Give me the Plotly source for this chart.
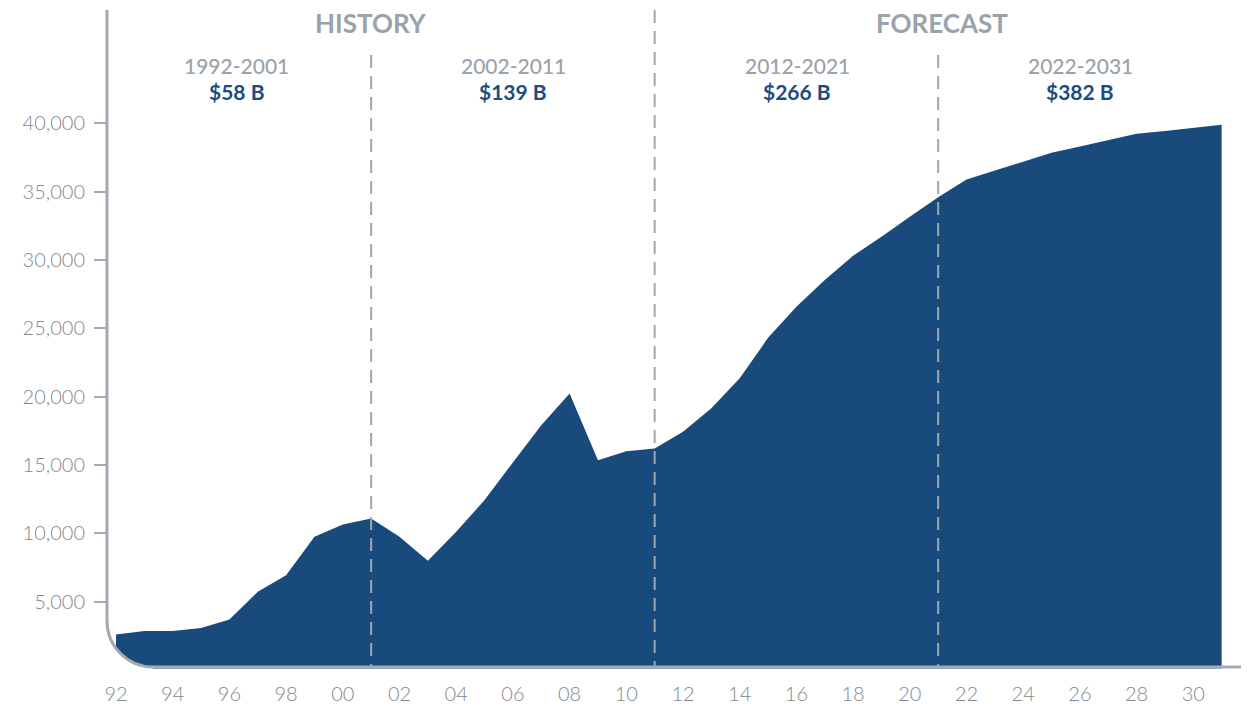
import plotly.graph_objects as go

# ---------------- data ----------------
years = list(range(1992, 2032))
values = [2600, 2850, 2850, 3070, 3700, 5720, 6940, 9750, 10650, 11090,
          9750, 7990, 10110, 12430, 15180, 17910, 20230, 15350, 16010, 16210,
          17430, 19150, 21340, 24300, 26580, 28530, 30310, 31700, 33160, 34580,
          35890, 36550, 37200, 37840, 38300, 38740, 39230, 39440, 39660, 39890]
x_tick_vals = list(range(1992, 2031, 2))
x_tick_text = [str(y)[2:] for y in x_tick_vals]
y_tick_vals = [5000, 10000, 15000, 20000, 25000, 30000, 35000, 40000]
dividers = [2001, 2011, 2021]
sections = ["HISTORY", "FORECAST"]
periods = ["1992-2001", "2002-2011", "2012-2021", "2022-2031"]
totals = ["$58 B", "$139 B", "$266 B", "$382 B"]

# ---------------- geometry (page pixels, page has an 8px body margin) ----------------
OFF = 8
PAGE_W, PAGE_H = 1249, 707
W, H = PAGE_W - OFF, PAGE_H - OFF
AX_X, AX_Y = 107, 667          # page position of axis lines
ZERO_Y = 670                   # page y of value 0
L = AX_X - OFF
B = H - (ZERO_Y - OFF)
T, R = 0, 0
PW, PH = W - L - R, H - T - B
px_per_year = 28.35
x0 = 1992 - (116 - AX_X) / px_per_year
x1 = x0 + PW / px_per_year
ymax = PH * 5000 / 68.34

def px(xp):  # page x -> paper
    return (xp - OFF - L) / PW

def py(yp):  # page y -> paper
    return (ZERO_Y - yp) / PH

FILL = "#184A7C"
AXIS = "#A3AAB2"
GRAY_TXT = "#9AA2AA"
BLUE_TXT = "#1D4C80"
TICK_TXT = "#85888B"

fig = go.Figure()
fig.add_trace(go.Scatter(
    x=years, y=values, mode="lines", fill="tozeroy",
    fillcolor=FILL, line=dict(width=0, color=FILL), hoverinfo="x+y",
    showlegend=False,
))

shapes = []
# white mask under bottom axis line
shapes.append(dict(type="rect", xref="paper", yref="paper",
                   x0=px(95), x1=px(PAGE_W + 5), y0=py(668.5), y1=py(ZERO_Y + 3),
                   fillcolor="white", line=dict(width=0), layer="above"))
# rounded corner mask
r = 46
cx_ax, cy_ax = AX_X, AX_Y
k = 0.5523 * r
corner = (f"M {px(cx_ax - 10)},{py(cy_ax - r)} L {px(cx_ax)},{py(cy_ax - r)} "
          f"C {px(cx_ax)},{py(cy_ax - r + k)} {px(cx_ax + r - k)},{py(cy_ax)} {px(cx_ax + r)},{py(cy_ax)} "
          f"L {px(cx_ax + r)},{py(cy_ax + 4)} L {px(cx_ax - 10)},{py(cy_ax + 4)} Z")
shapes.append(dict(type="path", xref="paper", yref="paper", path=corner,
                   fillcolor="white", line=dict(width=0), layer="above"))
# dashed dividers
for d in dividers:
    top = 10 if d == 2011 else 55
    shapes.append(dict(type="line", xref="x", yref="paper", x0=d, x1=d,
                       y0=py(top), y1=py(666),
                       line=dict(color="#9EA7B0", width=2, dash="13px,8px"),
                       layer="above"))
# axis path with rounded corner
axis_path = (f"M {px(cx_ax)},{py(10)} L {px(cx_ax)},{py(cy_ax - r)} "
             f"C {px(cx_ax)},{py(cy_ax - r + k)} {px(cx_ax + r - k)},{py(cy_ax)} {px(cx_ax + r)},{py(cy_ax)} "
             f"L {px(PAGE_W + 5)},{py(cy_ax)}")
shapes.append(dict(type="path", xref="paper", yref="paper", path=axis_path,
                   line=dict(color=AXIS, width=3), layer="above"))

annotations = []
for txt, cxp in zip(sections, [371, 942]):
    annotations.append(dict(text=f"<b>{txt}</b>", x=px(cxp), y=py(23), xref="paper", yref="paper",
                            showarrow=False, xanchor="center", yanchor="middle",
                            font=dict(family="Lato", size=26, color=GRAY_TXT, weight=900)))
for per, tot, cxp in zip(periods, totals, [236, 513, 797, 1080]):
    annotations.append(dict(text=per, x=px(cxp), y=py(65.5), xref="paper", yref="paper",
                            showarrow=False, xanchor="center", yanchor="middle",
                            font=dict(family="Lato", size=21, color=GRAY_TXT, weight=500)))
    annotations.append(dict(text=tot, x=px(cxp), y=py(91), xref="paper", yref="paper",
                            showarrow=False, xanchor="center", yanchor="middle",
                            font=dict(family="Lato", size=21, color=BLUE_TXT, weight=700)))

fig.update_layout(
    width=W, height=H,
    margin=dict(l=L, r=R, t=T, b=B, pad=0),
    paper_bgcolor="white", plot_bgcolor="white",
    shapes=shapes, annotations=annotations,
    xaxis=dict(range=[x0, x1], tickvals=x_tick_vals, ticktext=x_tick_text,
               showgrid=False, zeroline=False, showline=False, ticks="",
               tickfont=dict(family="Lato", size=20, color=TICK_TXT, weight=300),
               ticklabelstandoff=10, fixedrange=True),
    yaxis=dict(range=[0, ymax], tickvals=y_tick_vals, tickformat=",d",
               showgrid=False, zeroline=False, showline=False,
               ticks="outside", ticklen=12, tickwidth=1.5, tickcolor=AXIS,
               tickfont=dict(family="Lato", size=20, color=TICK_TXT, weight=300),
               ticklabelstandoff=5, fixedrange=True),
    hovermode=False,
)

fig.write_html("out.html")
